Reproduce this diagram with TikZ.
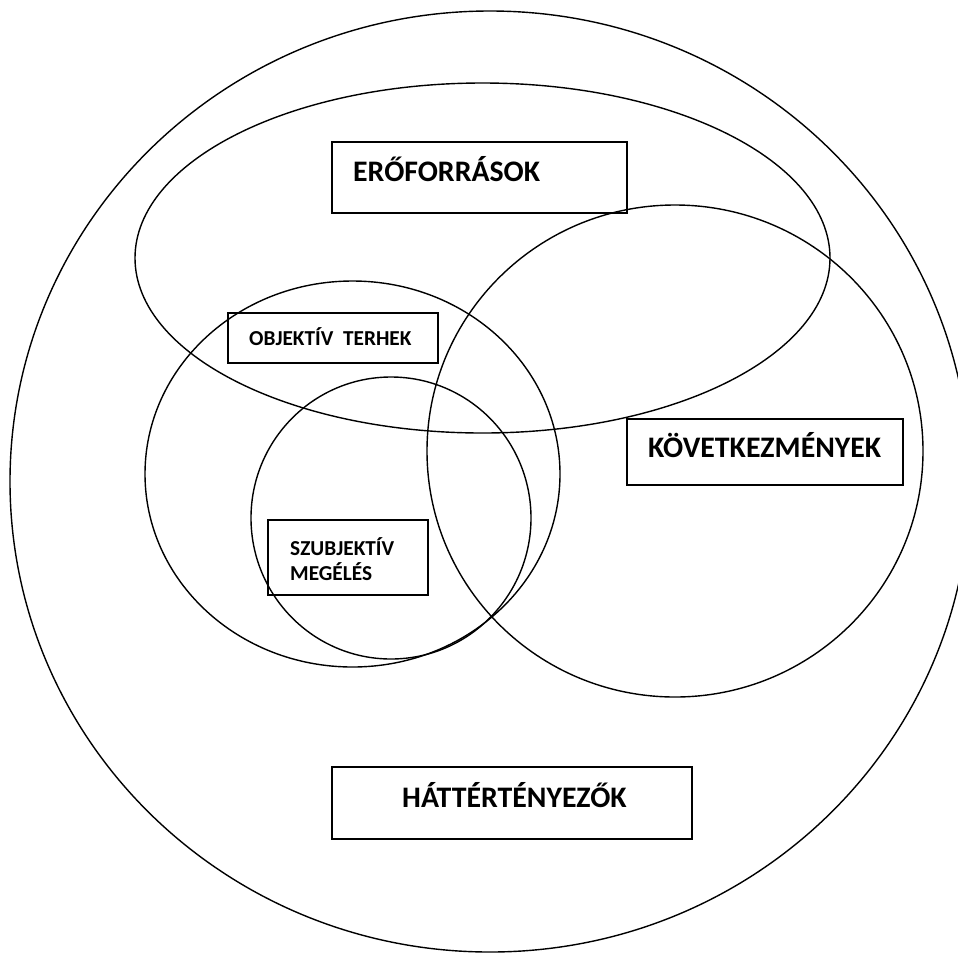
\documentclass[tikz,border=0pt]{standalone}
\usepackage{fontspec}
\setmainfont{Carlito}
\begin{document}
\begin{tikzpicture}[x=1pt,y=-1pt,
  ring/.style={draw, line width=1.4pt},
  boxnode/.style={draw, line width=1.5pt, rectangle, inner sep=0pt, outer sep=0pt},
  bigtxt/.style={font=\fontsize{29.8}{32}\selectfont\bfseries, inner sep=0pt, anchor=base west},
  smalltxt/.style={font=\fontsize{21.3}{25}\selectfont\bfseries, inner sep=0pt, anchor=base west}]
\useasboundingbox (0,0) rectangle (958,954);
\clip (0,0) rectangle (958,954);
% outer circle
\draw[ring] (490,481.5) ellipse [x radius=480, y radius=470.5];
% resources ellipse
\draw[ring] (482.5,258) ellipse [x radius=347.5, y radius=175];
% objective burden circle
\draw[ring] (352.5,474) ellipse [x radius=207.5, y radius=193];
% subjective circle
\draw[ring] (391,518) ellipse [x radius=140, y radius=141];
% consequences ellipse
\draw[ring] (675,451) ellipse [x radius=248, y radius=246];
% boxes
\node[boxnode, minimum width=295pt, minimum height=71pt] (erbox) at (479.5,177.5) {};
\node[bigtxt] (ertxt) at (353,181) {ERŐFORRÁSOK};
\node[boxnode, minimum width=210pt, minimum height=50pt] (objbox) at (333,338) {};
\node[smalltxt] (objtxt) at (249,345) {OBJEKTÍV\ \ TERHEK};
\node[boxnode, minimum width=276pt, minimum height=66pt] (kovbox) at (765,452) {};
\node[bigtxt] (kovtxt) at (648,457) {KÖVETKEZMÉNYEK};
\node[boxnode, minimum width=160pt, minimum height=75pt] (szubox) at (348,557.5) {};
\node[smalltxt] (szutxt1) at (290,555) {SZUBJEKTÍV};
\node[smalltxt] (szutxt2) at (290,580) {MEGÉLÉS};
\node[boxnode, minimum width=360pt, minimum height=72pt] (hatbox) at (512,803) {};
\node[bigtxt] (hattxt) at (402,807) {HÁTTÉRTÉNYEZŐK};
\end{tikzpicture}
\end{document}
